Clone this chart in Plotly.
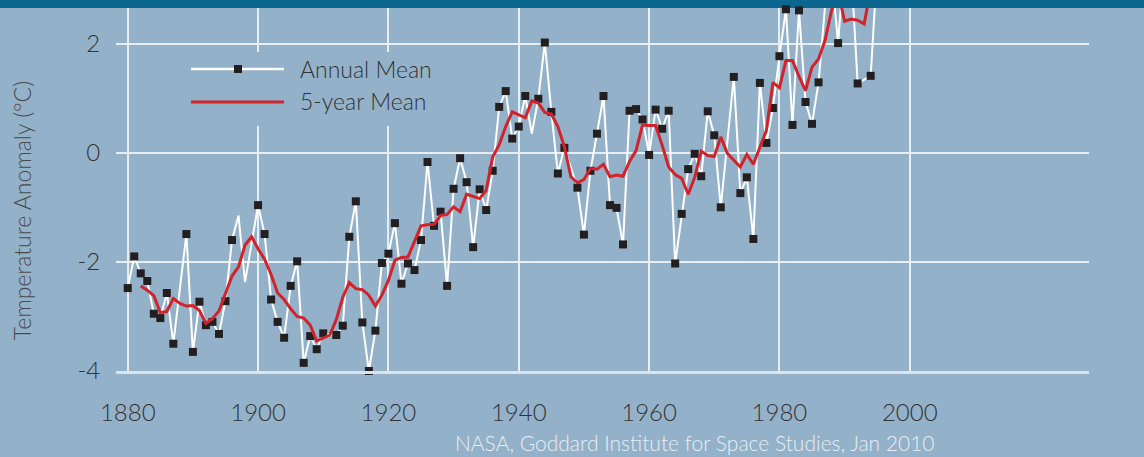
import plotly.graph_objects as go

# ---------------- data ----------------
years = [1880, 1881, 1882, 1883, 1884, 1885, 1886, 1887, 1889, 1890,
         1891, 1892, 1893, 1894, 1895, 1896, 1897, 1898, 1900, 1901,
         1902, 1903, 1904, 1905, 1906, 1907, 1908, 1909, 1910, 1912,
         1913, 1914, 1915, 1916, 1917, 1918, 1919, 1920, 1921, 1922,
         1923, 1924, 1925, 1926, 1927, 1928, 1929, 1930, 1931, 1932,
         1933, 1934, 1935, 1936, 1937, 1938, 1939, 1940, 1941, 1942,
         1943, 1944, 1945, 1946, 1947, 1949, 1950, 1951, 1952, 1953,
         1954, 1955, 1956, 1957, 1958, 1959, 1960, 1961, 1962, 1963,
         1964, 1965, 1966, 1967, 1968, 1969, 1970, 1971, 1973, 1974,
         1975, 1976, 1977, 1978, 1979, 1980, 1981, 1982, 1983, 1984,
         1985, 1986, 1987, 1988, 1989, 1990, 1991, 1992, 1994, 1995]
annual_mean = [-2.48, -1.90, -2.21, -2.35, -2.95, -3.03, -2.57, -3.50, -1.49, -3.65,
               -2.73, -3.16, -3.10, -3.32, -2.72, -1.60, -1.15, -2.37, -0.96, -1.49,
               -2.69, -3.10, -3.39, -2.44, -1.99, -3.85, -3.36, -3.60, -3.31, -3.34,
               -3.17, -1.54, -0.89, -3.11, -4.00, -3.26, -2.02, -1.85, -1.29, -2.40,
               -2.03, -2.15, -1.60, -0.17, -1.34, -1.08, -2.44, -0.66, -0.10, -0.54,
               -1.73, -0.67, -1.05, -0.33, 0.84, 1.13, 0.26, 0.48, 1.04, 0.35,
               0.99, 2.02, 0.75, -0.38, 0.09, -0.64, -1.50, -0.33, 0.35, 1.04,
               -0.96, -1.01, -1.68, 0.77, 0.80, 0.61, -0.04, 0.79, 0.44, 0.77,
               -2.03, -1.12, -0.30, -0.02, -0.43, 0.76, 0.32, -1.00, 1.39, -0.74,
               -0.45, -1.58, 1.28, 0.18, 0.82, 1.77, 2.63, 0.51, 2.61, 0.93,
               0.53, 1.29, 2.69, 3.30, 2.01, 3.60, 3.40, 1.27, 1.41, 3.40]
# years whose point is a line vertex without a square marker
unmarked_years = [1897, 1898, 1942]

five_years = list(range(1882, 1995))
five_year_mean = [-2.44, -2.52, -2.62, -2.93, -2.91, -2.67, -2.76, -2.81, -2.80, -2.89,
                  -3.13, -3.04, -2.90, -2.58, -2.26, -2.09, -1.69, -1.54, -1.76, -1.95,
                  -2.23, -2.57, -2.69, -2.86, -3.00, -3.03, -3.16, -3.45, -3.40, -3.34,
                  -3.06, -2.65, -2.38, -2.49, -2.51, -2.61, -2.81, -2.61, -2.34, -1.97,
                  -1.92, -1.91, -1.63, -1.34, -1.32, -1.31, -1.15, -1.13, -0.99, -1.08,
                  -0.76, -0.80, -0.84, -0.69, -0.08, 0.15, 0.48, 0.75, 0.69, 0.64,
                  0.95, 0.91, 0.74, 0.71, 0.48, 0.11, -0.44, -0.55, -0.49, -0.29,
                  -0.30, -0.21, -0.44, -0.41, -0.43, -0.16, 0.04, 0.51, 0.50, 0.50,
                  0.14, -0.26, -0.40, -0.47, -0.76, -0.45, 0.03, -0.05, -0.07, 0.29,
                  -0.01, -0.14, -0.26, -0.03, -0.21, 0.10, 0.41, 1.29, 1.19, 1.69,
                  1.69, 1.40, 1.14, 1.57, 1.72, 2.06, 2.61, 2.95, 2.41, 2.45,
                  2.43, 2.36, 3.00]

x_ticks = [1880, 1900, 1920, 1940, 1960, 1980, 2000]
y_ticks = [2, 0, -2, -4]
y_tick_text = ["2", "0", "-2", "-4"]

legend_labels = ["Annual Mean", "5-year Mean"]
y_title = "Temperature Anomaly (°C)"
source_text = "NASA, Goddard Institute for Space Studies, Jan 2010"

# ---------------- style ----------------
BG = "#93b1c9"
BAND = "#0c6790"
GRID = "#e6edf3"
WHITE = "#ffffff"
RED = "#d2232a"
MARK = "#231f20"
TEXT = "#333333"
FONT = "Lato, 'Open Sans', sans-serif"

mark_x = [y for y in years if y not in unmarked_years]
mark_v = [v for y, v in zip(years, annual_mean) if y not in unmarked_years]

fig = go.Figure()
fig.add_trace(go.Scatter(x=years, y=annual_mean, mode="lines",
                         line=dict(color=WHITE, width=2), showlegend=False,
                         name=legend_labels[0]))
fig.add_trace(go.Scatter(x=mark_x, y=mark_v, mode="markers",
                         marker=dict(symbol="square", size=8, color=MARK),
                         cliponaxis=False, showlegend=False, name=legend_labels[0]))
fig.add_trace(go.Scatter(x=five_years, y=five_year_mean, mode="lines",
                         line=dict(color=RED, width=3), showlegend=False,
                         name=legend_labels[1]))

# custom legend (paper coords)
shapes = [
    # dark band above plot
    dict(type="rect", xref="paper", yref="paper", x0=-0.2, x1=1.2, y0=1.0, y1=1.2,
         fillcolor=BAND, line=dict(width=0), layer="below"),
    # legend background hiding gridlines
    dict(type="rect", xref="paper", yref="paper", x0=0.062, x1=0.362, y0=0.675, y1=0.879,
         fillcolor=BG, line=dict(width=0), layer="above"),
    dict(type="line", xref="paper", yref="paper", x0=0.0771, x1=0.1727, y0=0.832, y1=0.832,
         line=dict(color=WHITE, width=2.5), layer="above"),
    dict(type="rect", xref="paper", yref="paper", xsizemode="pixel", ysizemode="pixel",
         xanchor=0.1254, yanchor=0.832, x0=-4, x1=4, y0=-4, y1=4,
         fillcolor=MARK, line=dict(width=0), layer="above"),
    dict(type="line", xref="paper", yref="paper", x0=0.0771, x1=0.1727, y0=0.741, y1=0.741,
         line=dict(color=RED, width=3), layer="above"),
]

annotations = [
    dict(xref="paper", yref="paper", x=0.187, y=0.833, xanchor="left", yanchor="middle",
         text=legend_labels[0], showarrow=False,
         font=dict(family=FONT, size=23, color=TEXT, weight=300)),
    dict(xref="paper", yref="paper", x=0.187, y=0.744, xanchor="left", yanchor="middle",
         text=legend_labels[1], showarrow=False,
         font=dict(family=FONT, size=23, color=TEXT, weight=300)),
    dict(xref="paper", yref="paper", x=0.8438, y=-0.198, xanchor="right", yanchor="middle",
         text=source_text, showarrow=False,
         font=dict(family=FONT, size=21, color="#e8eef3", weight=300)),
    # y-axis title
    dict(xref="paper", yref="paper", x=-0.0966, y=0.44, xanchor="center", yanchor="middle",
         text=y_title, textangle=-90, showarrow=False,
         font=dict(family=FONT, size=23, color="#4a4a4a", weight=300)),
]

fig.update_layout(
    width=1144, height=457,
    margin=dict(l=116, r=55, t=8, b=86, pad=0),
    paper_bgcolor=BG, plot_bgcolor=BG,
    showlegend=False,
    shapes=shapes, annotations=annotations,
    font=dict(family=FONT, color=TEXT),
)
fig.update_xaxes(range=[1878.2, 2027.5], tickvals=x_ticks,
                 ticktext=[str(t) for t in x_ticks],
                 showgrid=True, gridcolor=GRID, gridwidth=1.5,
                 zeroline=False, showline=True, linecolor="#d9e4ec", linewidth=2.5,
                 ticks="outside", ticklen=18, tickcolor="rgba(0,0,0,0)",
                 tickfont=dict(family=FONT, size=24, color=TEXT, weight=300))
fig.update_yaxes(range=[-4, 2.653], tickvals=y_ticks, ticktext=y_tick_text,
                 showgrid=True, gridcolor=GRID, gridwidth=1.5, zeroline=False,
                 ticks="outside", ticklen=10, tickcolor="rgba(0,0,0,0)",
                 tickfont=dict(family=FONT, size=24, color=TEXT, weight=300))

fig.write_html("out.html", config={"displayModeBar": False},
               post_script="document.body.style.margin='0px';")
